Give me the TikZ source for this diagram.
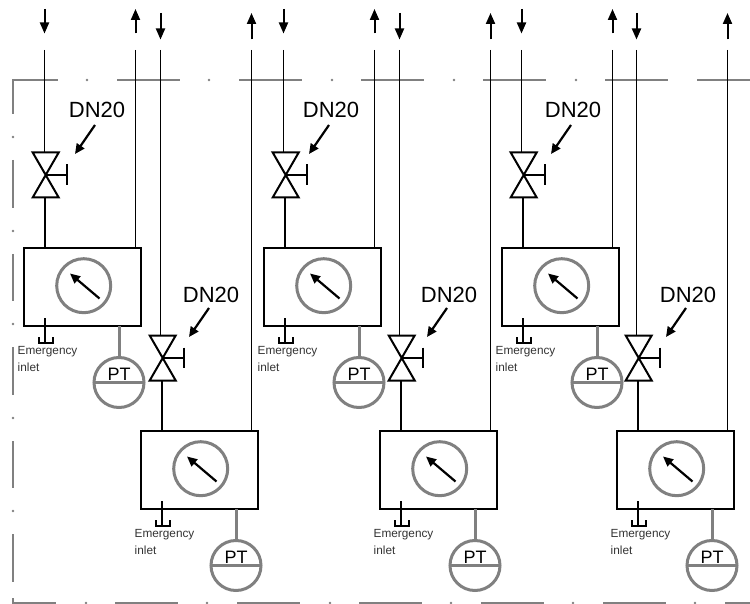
\documentclass[tikz,border=0pt]{standalone}
\usepackage{fontspec}
\setmainfont{Liberation Sans}
\usetikzlibrary{arrows.meta,calc}
\definecolor{framegrey}{HTML}{808080}
\definecolor{txtgrey}{HTML}{333333}
\tikzset{
  thinline/.style={black,line width=1.5pt},
  thickline/.style={black,line width=2pt},
  flowarrow/.style={black,line width=2pt,-{Triangle[length=11pt,width=9pt]}},
  callout/.style={black,line width=2.2pt,-{Triangle[length=10pt,width=9pt]}},
  boxnode/.style={draw=black,line width=2pt,fill=white,rectangle,inner sep=0pt,outer sep=0pt,minimum width=117pt,minimum height=78pt,anchor=north west},
  gaugenode/.style={draw=framegrey,line width=3pt,circle,inner sep=0pt,outer sep=0pt,minimum size=54pt},
  ptnode/.style={draw=framegrey,line width=3pt,circle,inner sep=0pt,outer sep=0pt,minimum size=50pt},
  greyline/.style={framegrey,line width=3pt},
  framedash/.style={framegrey,line width=2.8pt},
  framedot/.style={fill=framegrey,draw=none,circle,minimum size=2.6pt,inner sep=0pt},
  dnlabel/.style={inner sep=0pt,font=\fontsize{22}{26}\selectfont},
  ptlabel/.style={inner sep=0pt,anchor=base,font=\fontsize{18}{22}\selectfont},
  emlabel/.style={inner sep=0pt,anchor=west,text=txtgrey,font=\fontsize{11.8}{14}\selectfont},
}
% #1 name, #2 box left, #3 box top, #4 down-line x, #5 return-line x, #6 arrow top y, #7 arrow bottom y, #8 DN20 x offset
\newcommand{\plantunit}[8]{%
  \node[boxnode] (#1box) at (#2,#3) {};
  \node[gaugenode] (#1gauge) at ({#2+59.7},{#3+37.7}) {};
  \node[ptnode] (#1pt) at ({#2+95},{#3+134.5}) {};
  \coordinate (#1va) at ({#2+21.7},{#3-73});
  \coordinate (#1vt) at ({#4},{#3-96});
  \coordinate (#1vb) at ({#2+21},{#3-51});
  \coordinate (#1dt) at (#4,50);
  \coordinate (#1rt) at (#5,50);
  \coordinate (#1da) at (#4,#6);
  \coordinate (#1db) at (#4,#7);
  \coordinate (#1ra) at (#5,#7);
  \coordinate (#1rb) at (#5,#6);
  % pipes and flow arrows
  \draw[flowarrow] (#1da) -- (#1db);
  \draw[flowarrow] (#1ra) -- (#1rb);
  \draw[thinline] (#1dt) -- (#1vt);
  \draw[thinline] (#1rt) -- (#1rt |- #1box.north);
  \draw[thickline] (#1vb) -- (#1vb |- #1box.north);
  % valve
  \draw[thickline,line join=miter]
    ($(#1va)+(-13,-22.5)$) -- ($(#1va)+(13,-22.5)$) -- ($(#1va)+(-13,22.5)$) -- ($(#1va)+(13,22.5)$) -- cycle;
  \draw[thickline] (#1va) -- ($(#1va)+(21,0)$);
  \draw[thickline] ($(#1va)+(21,-10.5)$) -- ($(#1va)+(21,10)$);
  % gauge needle
  \coordinate (#1nt) at ({#2+75.5},{#3+50.5});
  \coordinate (#1nh) at ({#2+46},{#3+25.5});
  \draw[callout] (#1nt) -- (#1nh);
  % emergency inlet
  \draw[thinline] ({#2+21},{#3+70}) -- ({#2+21},{#3+95});
  \draw[thinline] ({#2+15},{#3+89}) -- ({#2+15},{#3+95}) -- ({#2+29},{#3+95}) -- ({#2+29},{#3+89});
  \node[emlabel] (#1em) at ({#2-6.5},{#3+104}) {Emergency};
  \node[emlabel] (#1in) at ({#2-6.5},{#3+119}) {inlet};
  % pressure transmitter
  \draw[greyline] (#1pt.north |- #1box.south) -- (#1pt.north);
  \draw[greyline] (#1pt.west) -- (#1pt.east);
  \node[ptlabel] (#1ptl) at ({#2+95},{#3+132}) {PT};
  % DN20 call-out
  \node[dnlabel] (#1dn) at ({#2+#8},{#3-138+(#6-9)/2}) {DN20};
  \coordinate (#1ca) at ({#2+#8-2},{#3-123});
  \coordinate (#1cb) at ({#2+#8-22},{#3-94});
  \draw[callout] (#1ca) -- (#1cb);
}
\begin{document}
\begin{tikzpicture}[x=1pt,y=-1pt]
\useasboundingbox (0,0) rectangle (750,604);
% dashed boundary
\draw[framedash] (13,114) -- (13,80) -- (58,80);
\foreach \a in {117,239,361,483,605}
  \draw[framedash] (\a,80) -- ({\a+63},80);
\draw[framedash] (697,80) -- (750,80);
\foreach \a in {87,209,332,454,576}
  \node[framedot] at (\a,80) {};
\foreach \a/\b in {160/208,254/301,347/395,441/488,534/582}
  \draw[framedash] (13,\a) -- (13,\b);
\foreach \a in {137,231,324,418,511}
  \node[framedot] at (13,\a) {};
\draw[framedash] (13,598) -- (13,603) -- (56,603);
\foreach \a in {115,237,359,481,603}
  \draw[framedash] (\a,603) -- ({\a+63},603);
\draw[framedash] (725,603) -- (750,603);
\foreach \a in {86,207,330,451,573,695}
  \node[framedot] at (\a,603) {};
% units
\plantunit{a}{24}{248}{44.5}{135.5}{9}{33.5}{73}
\plantunit{b}{141}{431}{160.5}{251.5}{13}{39.5}{70}
\plantunit{c}{264}{248}{283.5}{374.5}{9}{33.5}{67}
\plantunit{d}{380}{431}{399.5}{490.5}{13}{39.5}{69}
\plantunit{e}{502}{248}{521.5}{612.5}{9}{33.5}{71}
\plantunit{f}{617}{431}{636.5}{727.5}{13}{39.5}{71}
\end{tikzpicture}
\end{document}
